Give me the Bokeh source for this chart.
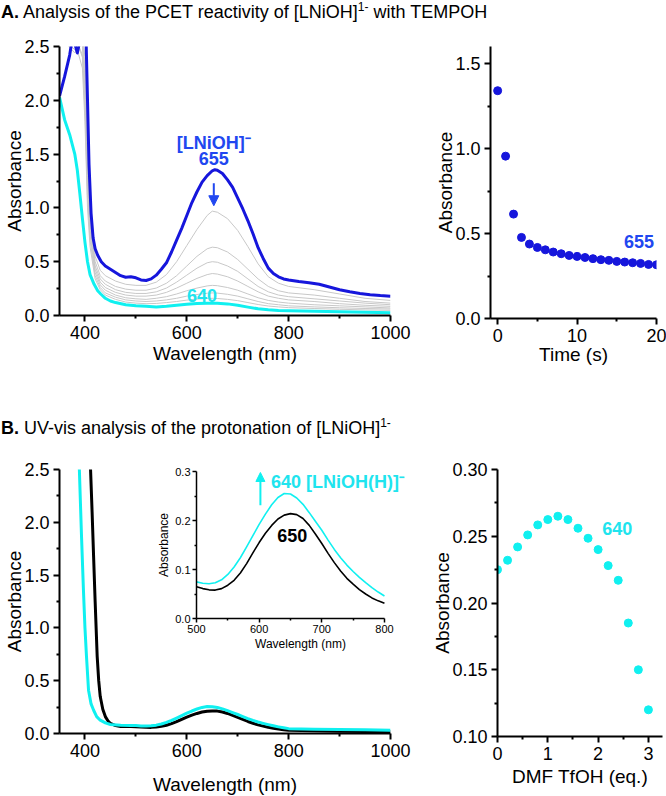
from bokeh.plotting import figure
from bokeh.layouts import column, row
from bokeh.models import (Div, Range1d, FixedTicker, NumeralTickFormatter, Label,
                          Arrow, NormalHead)
from bokeh.embed import file_html
from bokeh.resources import INLINE

# ------------------------------------------------------------------ data
# Panel A (left): spectra during reaction with TEMPOH
wl_A_start = [350, 360, 370, 376, 385, 392, 402, 405, 408, 412, 416, 420, 425, 432, 440, 450,
              460, 470, 480, 490, 500, 510, 520, 530, 540, 550, 560, 570, 580, 590, 600, 610,
              620, 630, 640, 650, 655, 660, 670, 680, 690, 700, 710, 720, 730, 740, 750, 760,
              770, 780, 790, 800, 820, 840, 860, 880, 900, 920, 940, 960, 980, 1000]
abs_A_start = [2.04, 2.22, 2.42, 2.6, 2.44, 2.6, 2.6, 2.0, 1.4, 0.95, 0.72, 0.62, 0.56, 0.50, 0.46, 0.43,
               0.40, 0.37, 0.355, 0.36, 0.35, 0.33, 0.325, 0.34, 0.375, 0.43, 0.49, 0.59, 0.70, 0.81, 0.93, 1.05,
               1.15, 1.24, 1.30, 1.345, 1.355, 1.35, 1.32, 1.26, 1.19, 1.09, 0.99, 0.88, 0.76, 0.63, 0.53, 0.44,
               0.39, 0.36, 0.34, 0.33, 0.315, 0.305, 0.29, 0.265, 0.24, 0.22, 0.205, 0.193, 0.185, 0.18]

wl_A_end = [350, 360, 370, 380, 385, 390, 395, 400, 405, 410, 418, 425, 431, 440, 450, 460, 480, 500,
            520, 540, 560, 580, 600, 620, 640, 660, 680, 700, 720, 740, 760, 780, 800, 850, 900, 950, 1000]
abs_A_end = [2.03, 1.82, 1.68, 1.50, 1.35, 1.13, 0.90, 0.68, 0.50, 0.38, 0.29, 0.23, 0.20, 0.16, 0.135, 0.12, 0.10, 0.09,
             0.085, 0.08, 0.085, 0.095, 0.105, 0.112, 0.115, 0.114, 0.108, 0.095, 0.078, 0.062, 0.053, 0.047, 0.045, 0.04, 0.035, 0.03, 0.025]

wl_A_mid = [350, 380, 395, 400, 405, 410, 420, 430, 440, 460, 480, 500, 520, 540, 560, 580,
            600, 620, 640, 650, 660, 680, 700, 720, 740, 760, 780, 800, 850, 900, 950, 1000]
abs_A_mid_1 = [2.6, 2.47, 2.6, 2.4, 1.6, 1.0, 0.55, 0.42, 0.37, 0.32, 0.29, 0.28, 0.28, 0.31, 0.38, 0.50,
               0.65, 0.80, 0.93, 0.97, 0.96, 0.90, 0.79, 0.64, 0.48, 0.36, 0.30, 0.27, 0.24, 0.20, 0.16, 0.14]
abs_A_mid_2 = [2.6, 2.6, 2.6, 2.3, 1.5, 0.9, 0.5, 0.37, 0.32, 0.27, 0.245, 0.235, 0.235, 0.255, 0.3, 0.37,
               0.46, 0.55, 0.62, 0.635, 0.63, 0.59, 0.52, 0.43, 0.34, 0.27, 0.23, 0.21, 0.19, 0.16, 0.13, 0.115]
abs_A_mid_3 = [2.6, 2.44, 2.55, 2.2, 1.4, 0.85, 0.46, 0.34, 0.29, 0.24, 0.215, 0.205, 0.205, 0.22, 0.255, 0.31,
               0.375, 0.44, 0.49, 0.50, 0.495, 0.46, 0.41, 0.34, 0.27, 0.22, 0.19, 0.175, 0.155, 0.135, 0.115, 0.10]
abs_A_mid_4 = [2.6, 2.6, 2.5, 2.1, 1.3, 0.8, 0.43, 0.31, 0.26, 0.215, 0.19, 0.18, 0.18, 0.19, 0.215, 0.255,
               0.30, 0.345, 0.38, 0.39, 0.385, 0.36, 0.32, 0.27, 0.22, 0.18, 0.16, 0.145, 0.13, 0.11, 0.095, 0.085]
abs_A_mid_5 = [2.6, 2.6, 2.42, 2.0, 1.2, 0.75, 0.40, 0.285, 0.235, 0.19, 0.165, 0.155, 0.15, 0.16, 0.175, 0.2,
               0.23, 0.255, 0.275, 0.28, 0.277, 0.26, 0.235, 0.2, 0.165, 0.14, 0.125, 0.115, 0.1, 0.09, 0.08, 0.07]
abs_A_mid_6 = [2.6, 2.6, 2.4, 1.9, 1.1, 0.7, 0.37, 0.26, 0.21, 0.17, 0.145, 0.135, 0.13, 0.135, 0.145, 0.16,
               0.18, 0.195, 0.207, 0.21, 0.208, 0.197, 0.18, 0.155, 0.13, 0.11, 0.1, 0.09, 0.08, 0.072, 0.065, 0.06]
abs_A_mid_7 = [2.6, 2.55, 2.3, 1.8, 1.0, 0.64, 0.34, 0.24, 0.19, 0.15, 0.125, 0.115, 0.11, 0.112, 0.12, 0.13,
               0.143, 0.153, 0.158, 0.16, 0.158, 0.15, 0.138, 0.12, 0.102, 0.088, 0.08, 0.073, 0.065, 0.058, 0.052, 0.048]
abs_A_mids = [abs_A_mid_1, abs_A_mid_2, abs_A_mid_3, abs_A_mid_4, abs_A_mid_5, abs_A_mid_6, abs_A_mid_7]

# Panel A (right): kinetics at 655 nm
time_s = [0, 1, 2, 3, 4, 5, 6, 7, 8, 9, 10, 11, 12, 13, 14, 15, 16, 17, 18, 19, 20]
abs_655 = [1.34, 0.955, 0.614, 0.477, 0.438, 0.418, 0.404, 0.391, 0.381, 0.371, 0.365,
           0.359, 0.352, 0.346, 0.342, 0.336, 0.332, 0.328, 0.324, 0.318, 0.316]

# Panel B (left + inset): spectra before / after protonation
wl_B_black = [400, 405, 411, 414, 417, 420, 424, 427, 430, 435, 440, 445, 450, 460, 470, 480, 490,
              500, 510, 520, 530, 540, 550, 560, 570, 580, 590, 600, 610, 620, 630, 640, 650, 660,
              670, 680, 690, 700, 710, 720, 730, 740, 750, 760, 770, 780, 790, 800,
              850, 900, 950, 1000]
abs_B_black = [2.8, 2.65, 2.5, 2.1, 1.67, 1.25, 0.73, 0.5, 0.35, 0.23, 0.16, 0.12, 0.095, 0.075, 0.067, 0.066, 0.066,
               0.065, 0.061, 0.0585, 0.058, 0.061, 0.068, 0.078, 0.093, 0.112, 0.134, 0.155, 0.174, 0.19, 0.203, 0.211, 0.214, 0.212,
               0.204, 0.19, 0.172, 0.153, 0.133, 0.114, 0.097, 0.082, 0.07, 0.059, 0.05, 0.042, 0.036, 0.031,
               0.025, 0.022, 0.02, 0.016]

wl_B_cyan = [385, 389, 393, 397, 400, 403, 407, 412, 417, 423, 430, 440, 450, 470, 490,
             500, 510, 520, 530, 540, 550, 560, 570, 580, 590, 600, 610, 620, 630, 640, 650, 660,
             670, 680, 690, 700, 710, 720, 730, 740, 750, 760, 770, 780, 790, 800,
             850, 900, 950, 1000]
abs_B_cyan = [2.7, 2.5, 1.9, 1.36, 1.0, 0.73, 0.41, 0.28, 0.22, 0.16, 0.126, 0.1, 0.085, 0.077, 0.076,
              0.0747, 0.072, 0.071, 0.073, 0.079, 0.09, 0.105, 0.124, 0.146, 0.169, 0.192, 0.213, 0.232, 0.247, 0.255, 0.254, 0.246,
              0.233, 0.216, 0.198, 0.18, 0.16, 0.141, 0.124, 0.109, 0.096, 0.084, 0.073, 0.063, 0.054, 0.046,
              0.04, 0.038, 0.036, 0.03]

# Panel B (right): absorbance at 640 nm vs. equivalents of acid
tfoh_eq = [0.0, 0.2, 0.4, 0.6, 0.8, 1.0, 1.2, 1.4, 1.6, 1.8, 2.0, 2.2, 2.4, 2.6, 2.8, 3.0]
abs_640 = [0.225, 0.232, 0.242, 0.251, 0.2585, 0.2625, 0.265, 0.2625, 0.256, 0.2485,
           0.240, 0.228, 0.217, 0.185, 0.150, 0.120]

# ------------------------------------------------------------------ style
FONT = "Liberation Sans"
BLUE = "#1616dc"
BLUE_TXT = "#2147f0"
CYAN = "#10f0f0"
CYAN_TXT = "#20e4ee"
GRAY = "#c8c8c8"


def make_fig(xr, yr, fw, fh, bl, br, bt, bb):
    p = figure(x_range=Range1d(*xr), y_range=Range1d(*yr),
               frame_width=fw, frame_height=fh,
               min_border_left=bl, min_border_right=br,
               min_border_top=bt, min_border_bottom=bb,
               output_backend="svg", toolbar_location=None)
    p.xgrid.visible = False
    p.ygrid.visible = False
    p.outline_line_color = None
    return p


def style_axes(p, xt, xm, yt, ym, yfmt, xlabel, ylabel, tick_size="18px",
               label_size="19px", lw=2, tout=6, mout=3, lstand=4, x_astand=1, y_astand=-4):
    p.xaxis.ticker = FixedTicker(ticks=xt, minor_ticks=xm)
    p.yaxis.ticker = FixedTicker(ticks=yt, minor_ticks=ym)
    p.xaxis.formatter = NumeralTickFormatter(format="0")
    p.yaxis.formatter = NumeralTickFormatter(format=yfmt)
    p.xaxis.axis_label = xlabel
    p.yaxis.axis_label = ylabel
    for ax, ast in ((p.xaxis[0], x_astand), (p.yaxis[0], y_astand)):
        ax.axis_line_width = lw
        ax.axis_line_color = "black"
        ax.major_tick_line_width = lw
        ax.major_tick_line_color = "black"
        ax.minor_tick_line_width = lw
        ax.minor_tick_line_color = "black"
        ax.major_tick_in = 0
        ax.major_tick_out = tout
        ax.minor_tick_in = 0
        ax.minor_tick_out = mout
        ax.major_label_text_font = FONT
        ax.major_label_text_font_size = tick_size
        ax.major_label_text_color = "black"
        ax.major_label_standoff = lstand
        ax.axis_label_text_font = FONT
        ax.axis_label_text_font_size = label_size
        ax.axis_label_text_font_style = "normal"
        ax.axis_label_text_color = "black"
        ax.axis_label_standoff = ast


def add_label(p, x, y, text, color, size="18px", align="center", bold=True):
    p.add_layout(Label(x=x, y=y, text=text, text_color=color, text_font=FONT,
                       text_font_size=size, text_font_style="bold" if bold else "normal",
                       text_align=align, text_baseline="middle"))


# ------------------------------------------------------------------ panel A left
pA1 = make_fig((350, 1000), (0, 2.5), 331, 269, 59, 35, 20, 70)
style_axes(pA1, [400, 600, 800, 1000], [500, 700, 900],
           [0, 0.5, 1.0, 1.5, 2.0, 2.5], [0.25, 0.75, 1.25, 1.75, 2.25], "0.0",
           "Wavelength (nm)", "Absorbance")
for ys in abs_A_mids:
    pA1.line(wl_A_mid, ys, line_color=GRAY, line_width=1, line_join="round")
pA1.line(wl_A_end, abs_A_end, line_color=CYAN, line_width=3, line_join="round")
pA1.line(wl_A_start, abs_A_start, line_color=BLUE, line_width=3, line_join="round")
add_label(pA1, 653, 1.60, "[LNiOH]\u207b", BLUE_TXT)
add_label(pA1, 653, 1.455, "655", BLUE_TXT)
add_label(pA1, 630, 0.19, "640", CYAN_TXT)
pA1.add_layout(Arrow(end=NormalHead(size=10, fill_color=BLUE_TXT, line_color=BLUE_TXT),
                     x_start=653, y_start=1.23, x_end=653, y_end=1.02,
                     line_color=BLUE_TXT, line_width=2))

# ------------------------------------------------------------------ panel A right
pA2 = make_fig((-0.9, 20), (0, 1.6), 166, 272, 65, 10, 16, 71)
style_axes(pA2, [0, 10, 20], [5, 15], [0, 0.5, 1.0, 1.5], [0.25, 0.75, 1.25], "0.0",
           "Time (s)", "Absorbance", x_astand=-1)
pA2.scatter(time_s, abs_655, size=8, fill_color=BLUE, line_color=BLUE)
add_label(pA2, 17.8, 0.455, "655", BLUE_TXT)

# ------------------------------------------------------------------ panel B left
pB1 = make_fig((350, 1000), (0, 2.5), 331, 264, 59, 35, 21, 62)
style_axes(pB1, [400, 600, 800, 1000], [500, 700, 900],
           [0, 0.5, 1.0, 1.5, 2.0, 2.5], [0.25, 0.75, 1.25, 1.75, 2.25], "0.0",
           "Wavelength (nm)", "Absorbance", x_astand=14)
pB1.line(wl_B_black, abs_B_black, line_color="black", line_width=3, line_join="round")
pB1.line(wl_B_cyan, abs_B_cyan, line_color=CYAN, line_width=3, line_join="round")

# ------------------------------------------------------------------ panel B right
pB2 = make_fig((0, 3.28), (0.10, 0.30), 165, 267, 72, 4, 21, 59)
style_axes(pB2, [0, 1, 2, 3], [0.5, 1.5, 2.5],
           [0.10, 0.15, 0.20, 0.25, 0.30], [0.125, 0.175, 0.225, 0.275], "0.00",
           "DMF TfOH (eq.)", "Absorbance", x_astand=3)
pB2.scatter(tfoh_eq, abs_640, size=8, fill_color=CYAN, line_color=CYAN)
add_label(pB2, 2.38, 0.2555, "640", CYAN_TXT)

# ------------------------------------------------------------------ inset
ins_black = [(w, a) for w, a in zip(wl_B_black, abs_B_black) if 500 <= w <= 800]
ins_cyan = [(w, a) for w, a in zip(wl_B_cyan, abs_B_cyan) if 500 <= w <= 800]
inset = make_fig((500, 832), (0, 0.3), 208, 147, 45, 4, 15, 42)
inset.background_fill_alpha = 0
inset.border_fill_alpha = 0
style_axes(inset, [500, 600, 700, 800], [550, 650, 750],
           [0, 0.1, 0.2, 0.3], [0.05, 0.15, 0.25], "0.0",
           "Wavelength (nm)", "Absorbance", tick_size="11px", label_size="12px",
           lw=1.5, tout=4, mout=2, lstand=2, x_astand=1, y_astand=1)
inset.xaxis.bounds = (500, 800)
inset.line([w for w, a in ins_black], [a for w, a in ins_black],
           line_color="black", line_width=1.6, line_join="round")
inset.line([w for w, a in ins_cyan], [a for w, a in ins_cyan],
           line_color=CYAN, line_width=1.6, line_join="round")
add_label(inset, 619, 0.278, "640 [LNiOH(H)]\u207b", CYAN_TXT, align="left")
add_label(inset, 653, 0.169, "650", "black")
inset.add_layout(Arrow(end=NormalHead(size=9, fill_color=CYAN, line_color=CYAN),
                       x_start=602, y_start=0.231, x_end=602, y_end=0.298,
                       line_color=CYAN, line_width=2))
inset.styles = {"position": "absolute", "left": "151px", "top": "456px"}

# ------------------------------------------------------------------ titles / layout
title_style = {"font-family": FONT, "font-size": "18px", "color": "black",
               "white-space": "nowrap", "box-sizing": "border-box"}
SUP = '<sup style="font-size:12px; line-height:0">1-</sup>'
divA = Div(text='<b>A.</b> Analysis of the PCET reactivity of [LNiOH]' + SUP + ' with TEMPOH',
           width=666, height=26, margin=0,
           styles=dict(title_style, **{"line-height": "20px", "padding-top": "2px", "padding-left": "1px"}))
divB = Div(text='<b>B.</b> UV-vis analysis of the protonation of [LNiOH]' + SUP,
           width=666, height=63, margin=0,
           styles=dict(title_style, **{"line-height": "20px", "padding-top": "33px", "padding-left": "1px"}))

root = column(divA, row(pA1, pA2), divB, row(pB1, pB2), inset)

open("out.html", "w").write(file_html(root, INLINE))
